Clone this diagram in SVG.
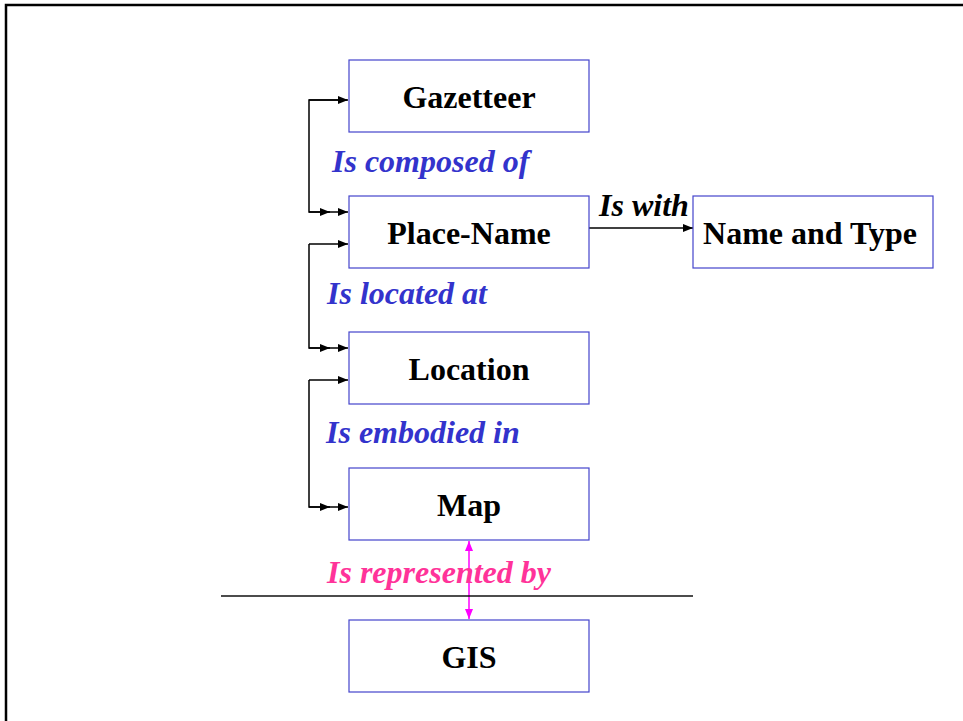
<svg xmlns="http://www.w3.org/2000/svg" width="963" height="721" viewBox="0 0 963 721">
<style>
.box{fill:#fff;stroke:#4444cc;stroke-width:1.2}
.t{font-family:"Liberation Serif","Times New Roman",serif;font-weight:bold;font-size:32px;fill:#000;text-anchor:middle}
.lb{font-family:"Liberation Serif","Times New Roman",serif;font-weight:bold;font-style:italic;font-size:32px}
.blue{fill:#3333cc}
.pink{fill:#ff3399}
.con{fill:none;stroke:#000;stroke-width:1.5}
</style>
<defs>
<marker id="ah" viewBox="0 0 10 8" refX="10" refY="4" markerWidth="10" markerHeight="8" markerUnits="userSpaceOnUse" orient="auto">
<path d="M0,0 L10,4 L0,8 Z" fill="#000"/>
</marker>
<marker id="mh" viewBox="0 0 10 8" refX="10" refY="4" markerWidth="10" markerHeight="8" markerUnits="userSpaceOnUse" orient="auto-start-reverse">
<path d="M0,0 L10,4 L0,8 Z" fill="#ff00ff"/>
</marker>
</defs>
<rect width="963" height="721" fill="#fff"/>
<path d="M6,721 V5 H963" fill="none" stroke="#000" stroke-width="2.5"/>
<g id="connectors">
<path class="con" d="M347,100 H309 V212 H348" marker-end="url(#ah)"/>
<path class="con" d="M309,212 H330" marker-end="url(#ah)"/>
<path class="con" d="M309,100 H348" marker-end="url(#ah)"/>
<path class="con" d="M309,244 V348 H348" marker-end="url(#ah)"/>
<path class="con" d="M309,348 H330" marker-end="url(#ah)"/>
<path class="con" d="M309,244 H348" marker-end="url(#ah)"/>
<path class="con" d="M309,380 V507 H348" marker-end="url(#ah)"/>
<path class="con" d="M309,507 H330" marker-end="url(#ah)"/>
<path class="con" d="M309,380 H348" marker-end="url(#ah)"/>
<path class="con" d="M589,228 H693" marker-end="url(#ah)"/>
<path d="M469,541 V619" fill="none" stroke="#ff00ff" stroke-width="1.5" marker-start="url(#mh)" marker-end="url(#mh)"/>
<line x1="221" y1="596" x2="693" y2="596" stroke="#111" stroke-width="1.4"/>
</g>
<g id="gazetteer"><rect class="box" x="349" y="60" width="240" height="72"/><text class="t" x="469" y="108">Gazetteer</text></g>
<g id="placename"><rect class="box" x="349" y="196" width="240" height="72"/><text class="t" x="469" y="244">Place-Name</text></g>
<g id="nametype"><rect class="box" x="693" y="196" width="240" height="72"/><text class="t" x="810" y="244">Name and Type</text></g>
<g id="location"><rect class="box" x="349" y="332" width="240" height="72"/><text class="t" x="469" y="380">Location</text></g>
<g id="map"><rect class="box" x="349" y="468" width="240" height="72"/><text class="t" x="469" y="516">Map</text></g>
<g id="gis"><rect class="box" x="349" y="620" width="240" height="72"/><text class="t" x="469" y="668">GIS</text></g>
<g id="labels">
<text class="lb blue" x="332" y="172">Is composed of</text>
<text class="lb blue" x="327" y="304">Is located at</text>
<text class="lb blue" x="326" y="443">Is embodied in</text>
<text class="lb" x="599" y="216">Is with</text>
<text class="lb pink" x="327" y="583">Is represented by</text>
</g>
</svg>
